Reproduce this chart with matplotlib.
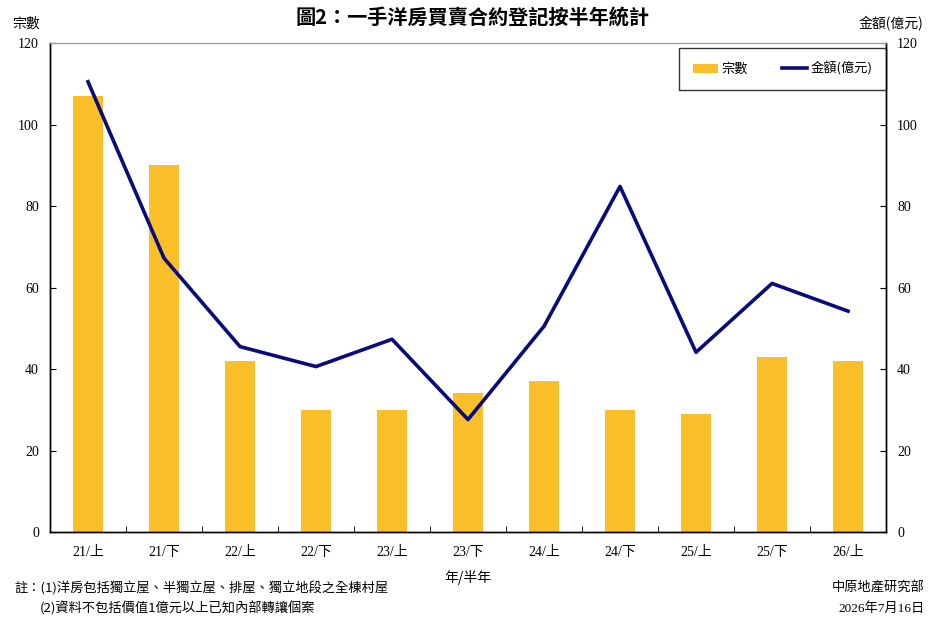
import matplotlib
matplotlib.use("Agg")
import matplotlib.pyplot as plt
import numpy as np

plt.rcParams['font.family'] = ['Liberation Serif', 'Noto Sans CJK TC', 'DejaVu Sans']

categories = ["21/上", "21/下", "22/上", "22/下", "23/上", "23/下", "24/上", "24/下", "25/上", "25/下", "26/上"]
counts = [107, 90, 42, 30, 30, 34, 37, 30, 29, 43, 42]
amounts = [110.5, 67.2, 45.5, 40.6, 47.3, 27.6, 50.5, 84.8, 44.1, 61.0, 54.2]
yticks = [0, 20, 40, 60, 80, 100, 120]

bar_color = '#FBBF2A'
line_color = '#0A0A7A'

fig = plt.figure(figsize=(9.45, 6.27), dpi=100)
ax = fig.add_axes([0.0529, 0.1515, 0.8847, 0.7799])
ax2 = ax.twinx()

x = np.arange(len(categories))
b = ax.bar(x, counts, width=0.4, color=bar_color, label='宗數', zorder=2)
l, = ax2.plot(x, amounts, color=line_color, lw=2.6, label='金額(億元)', zorder=3)

for a in (ax, ax2):
    a.set_ylim(0, 120)
    a.set_yticks(yticks)
    a.set_xlim(-0.5, len(categories) - 0.5)
ax.set_xticks(x)
ax.set_xticklabels(categories, fontsize=10)
ax.set_xticks(np.arange(-0.5, len(categories)), minor=True)
ax.tick_params(axis='x', which='major', length=0, pad=10)
ax.tick_params(axis='x', which='minor', length=4, direction='in')
ax.tick_params(axis='y', labelsize=10, direction='in', length=4, pad=8)
ax2.tick_params(axis='y', labelsize=10, direction='in', length=4, pad=8)

for a in (ax, ax2):
    a.spines['top'].set_color('#999999')
    for s in ('left', 'right', 'bottom'):
        a.spines[s].set_color('black')
        a.spines[s].set_linewidth(1.0)

ax.text(-0.045, 1.025, '宗數', transform=ax.transAxes, fontsize=10, ha='left', va='bottom',
        family=['Noto Sans CJK TC'])
ax2.text(1.045, 1.025, '金額(億元)', transform=ax.transAxes, fontsize=10, ha='right', va='bottom',
         family=['Noto Sans CJK TC'])

fig.text(0.5, 0.99, '圖2：一手洋房買賣合約登記按半年統計', ha='center', va='top', fontsize=14.5,
         fontweight='bold', family=['Noto Sans CJK TC'])

ax.set_xlabel('年/半年', fontsize=10, family=['Noto Sans CJK TC'], labelpad=8)
for t in ax.get_xticklabels():
    t.set_family(['Liberation Serif', 'Noto Sans CJK TC'])

leg = ax.legend([b, l], ['宗數', '金額(億元)'], loc='upper right', ncol=2, frameon=True,
                fancybox=False, edgecolor='black', borderpad=1.05,
                handlelength=1.9, handletextpad=0.25, columnspacing=2.6,
                bbox_to_anchor=(1.0, 0.99), borderaxespad=0,
                prop={'family': ['Noto Sans CJK TC'], 'size': 9.5})
leg.get_frame().set_linewidth(1.0)

fig.text(0.015, 0.062, '註：(1)洋房包括獨立屋、半獨立屋、排屋、獨立地段之全棟村屋', fontsize=9.5,
         family=['Noto Sans CJK TC'], va='center')
fig.text(0.042, 0.030, '(2)資料不包括價值1億元以上已知內部轉讓個案', fontsize=9.5,
         family=['Noto Sans CJK TC'], va='center')
fig.text(0.978, 0.062, '中原地產研究部', fontsize=9.5, family=['Noto Sans CJK TC'], va='center', ha='right')
fig.text(0.978, 0.030, '2026年7月16日', fontsize=9.5, family=['Liberation Serif', 'Noto Sans CJK TC'],
         va='center', ha='right')

fig.savefig('out.png', dpi=100)
